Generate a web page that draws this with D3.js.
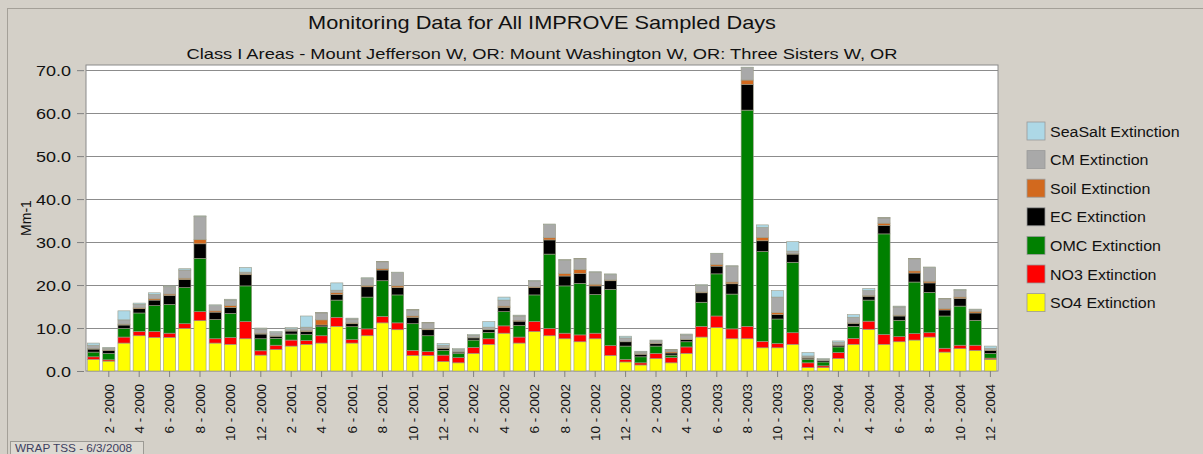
<!DOCTYPE html>
<html>
<head>
<meta charset="utf-8">
<script src="https://cdn.jsdelivr.net/npm/d3@7/dist/d3.min.js"></script>
<style>
  html, body { margin: 0; padding: 0; background: #d4d0c8; }
  svg { display: block; font-family: "Liberation Sans", Arial, sans-serif; }
</style>
</head>
<body>
<svg id="chart" width="1203" height="454"></svg>
<script>
// Monthly categories, Jan 2000 – Dec 2004
const years = [2000, 2001, 2002, 2003, 2004];
const months = [1, 2, 3, 4, 5, 6, 7, 8, 9, 10, 11, 12];
const categories = years.flatMap(y => months.map(m => `${m} - ${y}`));

// Axis ticks
const yTicks = [0, 10, 20, 30, 40, 50, 60, 70];
const xTickLabels = categories.filter((c, i) => i % 2 === 1);

// Extinction components (Mm-1), one value per month
const so4 = [
  2.7, 2.3, 6.5, 8.2, 7.8, 7.8, 9.9, 11.7, 6.5, 6.2,
  7.5, 3.7, 5.0, 5.8, 6.2, 6.5, 10.4, 6.5, 8.2, 11.2,
  9.6, 3.6, 3.6, 2.2, 1.9, 4.1, 6.2, 8.8, 6.5, 9.2,
  8.2, 7.5, 6.8, 7.5, 3.6, 2.1, 1.4, 2.9, 1.9, 4.1,
  7.9, 10.1, 7.5, 7.5, 5.4, 5.4, 6.2, 0.8, 0.8, 2.9,
  6.2, 9.7, 6.2, 6.8, 7.2, 7.9, 4.4, 5.2, 4.8, 2.7
];
const no3 = [
  0.6, 0.3, 1.4, 1.0, 1.4, 1.0, 1.1, 2.1, 1.0, 1.6,
  4.0, 1.0, 1.0, 1.4, 0.9, 1.7, 2.1, 0.8, 1.6, 1.5,
  1.6, 1.2, 0.9, 1.5, 1.2, 1.4, 1.3, 1.7, 1.4, 2.3,
  1.7, 1.3, 1.6, 1.3, 2.3, 0.6, 0.5, 1.2, 1.2, 1.5,
  2.5, 2.7, 2.3, 2.9, 1.5, 1.0, 2.7, 1.1, 0.4, 1.4,
  1.4, 1.9, 2.3, 1.2, 1.5, 1.0, 0.9, 0.8, 1.2, 0.3
];
const omc = [
  1.1, 1.5, 2.0, 4.3, 6.0, 6.7, 8.4, 12.4, 4.5, 5.6,
  8.3, 2.8, 1.6, 1.4, 1.4, 2.1, 4.0, 3.0, 7.4, 8.3,
  6.5, 6.2, 3.7, 1.1, 1.0, 1.7, 1.5, 3.3, 2.7, 6.2,
  17.3, 11.0, 12.0, 9.0, 13.1, 3.1, 1.4, 1.7, 0.6, 1.2,
  5.6, 9.8, 8.1, 50.3, 20.9, 5.7, 16.4, 0.8, 0.9, 1.3,
  2.8, 4.9, 23.4, 3.8, 12.0, 9.4, 7.5, 9.1, 5.8, 1.1
];
const ec = [
  0.7, 0.7, 0.8, 1.0, 1.3, 2.1, 1.9, 3.4, 1.7, 1.4,
  2.6, 1.1, 0.5, 0.7, 0.7, 0.4, 1.3, 0.7, 2.4, 2.5,
  1.7, 1.5, 1.4, 0.5, 0.3, 0.5, 0.6, 1.0, 1.0, 1.7,
  3.3, 2.3, 2.3, 2.0, 2.0, 1.0, 0.6, 0.6, 0.5, 0.5,
  2.2, 1.8, 2.4, 6.0, 2.5, 1.0, 1.9, 0.3, 0.3, 0.4,
  0.7, 0.9, 2.0, 1.0, 2.1, 2.2, 1.4, 1.8, 1.7, 0.7
];
const soil = [
  0.1, 0.1, 0.2, 0.2, 0.3, 0.3, 0.3, 1.0, 0.3, 0.4,
  0.2, 0.2, 0.1, 0.1, 0.2, 1.2, 0.4, 0.2, 0.3, 0.3,
  0.4, 0.3, 0.2, 0.1, 0.1, 0.1, 0.1, 0.3, 0.2, 0.2,
  0.5, 0.6, 0.9, 0.4, 0.2, 0.1, 0.1, 0.1, 0.3, 0.1,
  0.2, 0.4, 0.4, 1.0, 0.8, 0.5, 0.1, 0.1, 0.0, 0.1,
  0.1, 0.2, 0.5, 0.2, 0.5, 0.4, 0.3, 0.3, 0.4, 0.1
];
const cm = [
  0.8, 0.4, 1.0, 0.8, 1.0, 1.7, 1.9, 5.3, 1.2, 1.3,
  0.4, 1.0, 0.7, 0.4, 0.8, 1.6, 0.6, 0.9, 1.6, 1.6,
  3.1, 1.4, 1.4, 0.6, 0.5, 0.5, 0.5, 1.4, 1.0, 1.3,
  3.1, 3.1, 2.5, 2.8, 1.2, 0.8, 0.4, 0.5, 0.4, 1.0,
  1.5, 2.5, 3.7, 2.9, 2.3, 3.6, 0.6, 0.4, 0.3, 0.6,
  1.3, 1.1, 1.2, 1.9, 2.8, 3.2, 2.3, 1.6, 0.4, 0.4
];
const seaSalt = [
  0.5, 0.2, 2.1, 0.3, 0.4, 0.2, 0.3, 0.2, 0.2, 0.2,
  1.1, 0.2, 0.3, 0.3, 2.6, 0.1, 1.7, 0.2, 0.2, 0.1,
  0.1, 0.1, 0.1, 0.4, 0.2, 0.2, 1.3, 0.7, 0.2, 0.2,
  0.1, 0.1, 0.1, 0.1, 0.2, 0.4, 0.2, 0.2, 0.1, 0.2,
  0.2, 0.1, 0.1, 0.1, 0.6, 1.5, 2.2, 0.8, 0.2, 0.3,
  0.6, 0.5, 0.1, 0.2, 0.1, 0.1, 0.1, 0.2, 0.1, 0.5
];

// Stack order: bottom to top
const seriesNames = ["SO4 Extinction", "NO3 Extinction", "OMC Extinction", "EC Extinction",
                     "Soil Extinction", "CM Extinction", "SeaSalt Extinction"];
const seriesValues = [so4, no3, omc, ec, soil, cm, seaSalt];
const seriesColors = ["#ffff00", "#ff0000", "#008000", "#000000", "#d2691e", "#a9a9a9", "#add8e6"];

const rows = categories.map((c, i) => {
  const r = { month: c };
  seriesNames.forEach((s, k) => { r[s] = seriesValues[k][i]; });
  return r;
});

const svg = d3.select("#chart");
const W = 1203, H = 454;
const plot = { left: 86, right: 998, top: 65, bottom: 371 };

// widen glyphs horizontally by a factor, keeping the anchor point
function widen(sel, k) {
  sel.each(function () {
    const w = this.getComputedTextLength();
    d3.select(this).attr("textLength", w * k).attr("lengthAdjust", "spacingAndGlyphs");
  });
}

// panel frame
svg.append("rect").attr("x", 7.5).attr("y", 8.5).attr("width", W).attr("height", H)
  .attr("fill", "#d4d0c8").attr("stroke", "#a4a098");

const x = d3.scaleBand().domain(categories).range([plot.left, plot.right]).paddingInner(0.2).paddingOuter(0.1);
const y = d3.scaleLinear().domain([0, 71.2]).range([plot.bottom, plot.top]);

// plot area
svg.append("rect").attr("x", plot.left).attr("y", plot.top)
  .attr("width", plot.right - plot.left).attr("height", plot.bottom - plot.top)
  .attr("fill", "#ffffff").attr("stroke", "#8a8a8a");

// horizontal grid
svg.append("g").selectAll("line").data(yTicks.slice(1)).join("line")
  .attr("x1", plot.left).attr("x2", plot.right)
  .attr("y1", d => Math.round(y(d)) + 0.5).attr("y2", d => Math.round(y(d)) + 0.5)
  .attr("stroke", "#8c8c8c").attr("stroke-width", 1.2);

// stacked bars
const stacked = d3.stack().keys(seriesNames)(rows);
svg.append("g").selectAll("g").data(stacked).join("g")
  .attr("fill", (d, i) => seriesColors[i])
  .selectAll("rect").data(d => d).join("rect")
  .attr("x", d => x(d.data.month))
  .attr("width", x.bandwidth())
  .attr("y", d => y(d[1]))
  .attr("height", d => Math.max(0, y(d[0]) - y(d[1])))
  .attr("stroke", "#9c9c88").attr("stroke-width", 0.6);

// y axis
const yAxis = d3.axisLeft(y).tickValues(yTicks).tickFormat(d3.format(".1f")).tickSize(7).tickPadding(6);
const gy = svg.append("g").attr("transform", `translate(${plot.left - 2},0)`).call(yAxis);
gy.select(".domain").remove();
gy.selectAll(".tick line").attr("stroke", "#808080");
gy.selectAll("text").attr("font-size", 15.5).attr("fill", "#111")
  .attr("font-family", "Liberation Sans, Arial").attr("dy", "0.36em");
widen(gy.selectAll("text"), 1.16);

svg.append("text")
  .attr("transform", `translate(31,${(plot.top + plot.bottom) / 2}) rotate(-90)`)
  .attr("text-anchor", "middle").attr("font-size", 14).attr("fill", "#111")
  .text("Mm-1");

// x axis
const xAxis = d3.axisBottom(x).tickValues(xTickLabels).tickSize(6).tickPadding(4);
const gx = svg.append("g").attr("transform", `translate(0,${plot.bottom})`).call(xAxis);
gx.select(".domain").remove();
gx.selectAll(".tick line").attr("stroke", "#808080");
gx.selectAll("text")
  .attr("font-size", 13.5).attr("fill", "#111").attr("font-family", "Liberation Sans, Arial")
  .attr("text-anchor", "end")
  .attr("transform", "translate(0,13) rotate(-90)")
  .attr("x", 0).attr("y", 0).attr("dx", 0).attr("dy", "0.36em");

// titles
const cx = (plot.left + plot.right) / 2;
const title = svg.append("text").attr("x", cx).attr("y", 28.5).attr("text-anchor", "middle")
  .attr("font-size", 18.5).attr("fill", "#111").text("Monitoring Data for All IMPROVE Sampled Days");
title.attr("textLength", 468).attr("lengthAdjust", "spacingAndGlyphs");
const subtitle = svg.append("text").attr("x", cx).attr("y", 58.5).attr("text-anchor", "middle")
  .attr("font-size", 14.8).attr("fill", "#111")
  .text("Class I Areas - Mount Jefferson W, OR: Mount Washington W, OR: Three Sisters W, OR");
subtitle.attr("textLength", 711).attr("lengthAdjust", "spacingAndGlyphs");

// legend (top entry is the top of the stack)
const legend = svg.append("g").attr("transform", "translate(1027,122)");
const legendItems = seriesNames.map((s, i) => ({ name: s, color: seriesColors[i] })).reverse();
const li = legend.selectAll("g").data(legendItems).join("g")
  .attr("transform", (d, i) => `translate(0,${i * 28.6})`);
li.append("rect").attr("width", 18).attr("height", 18)
  .attr("fill", d => d.color).attr("stroke", "#9a9a9a").attr("stroke-width", 0.8);
const legendText = li.append("text").attr("x", 23).attr("y", 9).attr("dy", "0.36em")
  .attr("font-size", 15.5).attr("fill", "#111").text(d => d.name);
widen(legendText, 1.03);

// footer stamp
const stamp = svg.append("g").attr("transform", "translate(10.5,441.5)");
stamp.append("rect").attr("width", 133).attr("height", 16)
  .attr("fill", "#dcd9d2").attr("stroke", "#9c9a94");
stamp.append("text").attr("x", 4.5).attr("y", 10).attr("font-size", 11)
  .attr("fill", "#3c4060").attr("textLength", 117).attr("lengthAdjust", "spacingAndGlyphs")
  .text("WRAP TSS - 6/3/2008");
</script>
</body>
</html>
